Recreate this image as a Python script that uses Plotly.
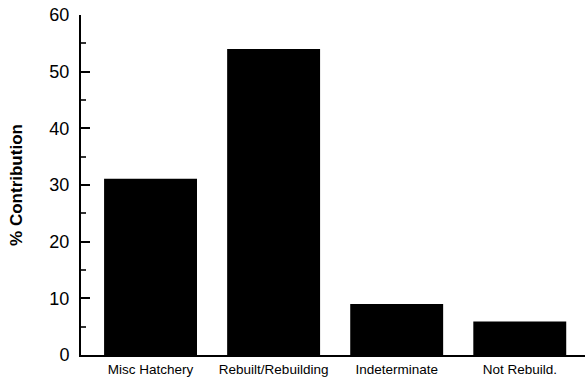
import plotly.graph_objects as go

categories = ["Misc Hatchery", "Rebuilt/Rebuilding", "Indeterminate", "Not Rebuild."]
contribution = [31.1, 54.0, 9.0, 5.9]
y_ticks = [0, 10, 20, 30, 40, 50, 60]

fig = go.Figure(
    go.Bar(
        x=categories,
        y=contribution,
        marker=dict(color="black", line=dict(width=0)),
    )
)

fig.update_layout(
    width=586,
    height=379,
    margin=dict(l=81, r=1, t=15, b=24),
    paper_bgcolor="white",
    plot_bgcolor="white",
    bargap=0.245,
    showlegend=False,
    font=dict(family="Liberation Sans, Arial, sans-serif", color="black"),
)

fig.update_xaxes(
    range=[-0.565, 3.53],
    showline=True,
    linecolor="black",
    linewidth=2,
    ticks="",
    showgrid=False,
    tickfont=dict(size=13.5),
    ticklabelstandoff=1,
)

fig.update_yaxes(
    range=[0, 60],
    tickvals=y_ticks,
    showline=True,
    linecolor="black",
    linewidth=2,
    ticks="inside",
    ticklen=9,
    tickwidth=1.5,
    tickcolor="black",
    minor=dict(ticks="inside", ticklen=5, dtick=5, tickwidth=1.5, tickcolor="#333"),
    showgrid=False,
    zeroline=False,
    tickfont=dict(size=18),
    ticklabelstandoff=6,
    title=dict(text="<b>% Contribution</b>", font=dict(size=17), standoff=22),
)

fig.write_html("out.html")
